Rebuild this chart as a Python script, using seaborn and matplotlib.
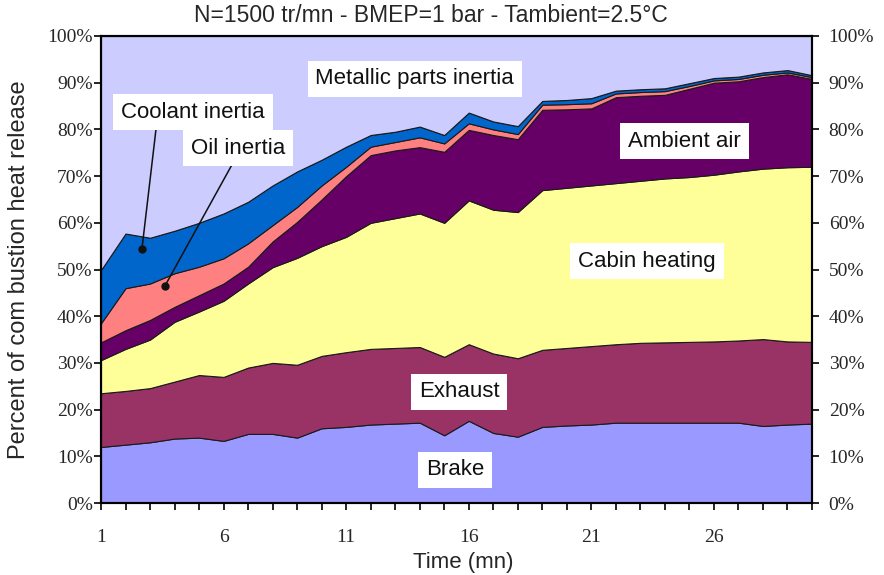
import numpy as np
import matplotlib
matplotlib.use("Agg")
import matplotlib.pyplot as plt
from matplotlib.ticker import FixedLocator, MultipleLocator, PercentFormatter
import seaborn as sns

# ─── DATA (share of combustion heat release, %) ──────────────────────────────
time_mn = list(range(1, 31))

brake = [12.0, 12.5, 13.0, 13.8, 14.0, 13.3, 14.8, 14.8, 14.0, 16.0,
         16.3, 16.8, 17.0, 17.2, 14.5, 17.6, 15.0, 14.2, 16.3, 16.6,
         16.8, 17.2, 17.2, 17.2, 17.2, 17.2, 17.2, 16.5, 16.8, 17.0]
exhaust = [11.5, 11.5, 11.6, 12.2, 13.4, 13.7, 14.2, 15.2, 15.6, 15.5,
           16.0, 16.2, 16.2, 16.2, 16.8, 16.4, 17.0, 16.8, 16.5, 16.6,
           16.8, 16.8, 17.1, 17.2, 17.3, 17.4, 17.6, 18.6, 17.8, 17.5]
cabin_heating = [7.1, 9.0, 10.4, 12.8, 13.6, 16.3, 18.0, 20.5, 22.9, 23.5,
                 24.7, 27.0, 27.8, 28.6, 28.7, 30.8, 30.8, 31.3, 34.2, 34.3,
                 34.4, 34.5, 34.7, 35.1, 35.3, 35.7, 36.2, 36.5, 37.3, 37.5]
ambient_air = [3.8, 4.0, 4.2, 3.2, 3.5, 3.7, 3.6, 5.5, 7.7, 10.0,
               13.0, 14.5, 14.5, 14.2, 15.2, 15.1, 16.0, 15.6, 17.2, 16.8,
               16.5, 18.4, 18.2, 17.9, 18.9, 19.7, 19.3, 19.6, 19.9, 18.8]
oil_inertia = [4.1, 9.0, 7.8, 7.2, 6.1, 5.4, 5.0, 3.5, 3.2, 3.0,
               2.0, 1.8, 1.8, 2.1, 1.8, 1.4, 1.2, 1.1, 1.1, 1.1,
               1.1, 0.8, 0.8, 0.8, 0.6, 0.5, 0.5, 0.5, 0.4, 0.4]
coolant_inertia = [11.4, 11.7, 9.8, 9.1, 9.4, 9.6, 8.9, 8.5, 7.6, 5.5,
                   4.3, 2.5, 2.2, 2.3, 1.8, 2.3, 1.7, 1.7, 0.8, 0.9,
                   1.1, 0.6, 0.6, 0.6, 0.6, 0.5, 0.5, 0.5, 0.5, 0.4]
metallic_inertia = [50.1, 42.3, 43.2, 41.7, 40.0, 38.0, 35.5, 32.0, 29.0, 26.5,
                    23.7, 21.2, 20.5, 19.4, 21.2, 16.4, 18.3, 19.3, 13.9, 13.7,
                    13.3, 11.7, 11.4, 11.2, 10.1, 9.0, 8.7, 7.8, 7.3, 8.4]

series_names = ["Brake", "Exhaust", "Cabin heating", "Ambient air",
                "Oil inertia", "Coolant inertia", "Metallic parts inertia"]
series_colors = ["#9999FF", "#993366", "#FFFF99", "#660066",
                 "#FF8080", "#0066CC", "#CCCCFF"]

# ─── STYLE ────────────────────────────────────────────────────────────────────
sns.set_style("ticks")
plt.rcParams["font.family"] = ["Liberation Sans", "DejaVu Sans"]
TICK_FONT = {"family": ["Liberation Serif", "DejaVu Serif"], "size": 14}
TXT = 16

fig = plt.figure(figsize=(8.84, 5.75), dpi=100)
ax = fig.add_axes([101 / 884, 1 - 503 / 575, 711 / 884, 467 / 575])

ax.stackplot(time_mn, brake, exhaust, cabin_heating, ambient_air,
             oil_inertia, coolant_inertia, metallic_inertia,
             colors=series_colors, labels=series_names,
             edgecolor="#1a1a1a", linewidth=0.8)

ax.set_xlim(1, 30)
ax.set_ylim(0, 100)

# x axis: a tick per minute, labels every 5
ax.xaxis.set_major_locator(FixedLocator([1, 6, 11, 16, 21, 26]))
ax.xaxis.set_minor_locator(MultipleLocator(1))
ax.tick_params(axis="x", which="both", direction="out", length=5, width=1.2,
               color="black", pad=14)
for lab in ax.get_xticklabels():
    lab.set_fontproperties(TICK_FONT)

ax.yaxis.set_major_locator(MultipleLocator(10))
ax.yaxis.set_major_formatter(PercentFormatter(decimals=0))
ax.tick_params(axis="y", direction="out", length=5, width=1.2, color="black", pad=1)
for lab in ax.get_yticklabels():
    lab.set_fontproperties(TICK_FONT)

ax2 = ax.twinx()
ax2.set_ylim(0, 100)
ax2.yaxis.set_major_locator(MultipleLocator(10))
ax2.yaxis.set_major_formatter(PercentFormatter(decimals=0))
ax2.tick_params(axis="y", direction="out", length=5, width=1.2, color="black", pad=7)
for lab in ax2.get_yticklabels():
    lab.set_fontproperties(TICK_FONT)

for a in (ax, ax2):
    for sp in a.spines.values():
        sp.set_visible(True)
        sp.set_color("black")
        sp.set_linewidth(1.5)

ax.set_xlabel("Time (mn)", fontsize=TXT)
ax.xaxis.set_label_coords(0.51, -0.105)
ax.set_ylabel("Percent of com bustion heat release", fontsize=17)
ax.yaxis.set_label_coords(-0.100, 0.5)

fig.text(431 / 884, 1 - 16 / 575, "N=1500 tr/mn - BMEP=1 bar - Tambient=2.5\u00b0C",
         ha="center", va="center", fontsize=16.5)

# ─── IN-CHART LABELS ──────────────────────────────────────────────────────────
box = dict(boxstyle="square,pad=0.35", facecolor="white", edgecolor="none")
labels = [
    ("Metallic parts inertia", 13.8, 90.8),
    ("Coolant inertia", 4.75, 83.7),
    ("Oil inertia", 6.59, 76.0),
    ("Ambient air", 24.8, 77.5),
    ("Cabin heating", 23.27, 51.8),
    ("Exhaust", 15.6, 23.8),
    ("Brake", 15.44, 7.1),
]
for text, lx, ly in labels:
    ax.text(lx, ly, text, ha="center", va="center", fontsize=TXT,
            color="#111111", bbox=box, zorder=5)

# leader lines for the thin inertia bands
for (x0, y0), (x1, y1) in [((3.24, 79.9), (2.67, 54.4)),
                           ((6.38, 72.8), (3.61, 46.5))]:
    ax.plot([x0, x1], [y0, y1], color="#111111", linewidth=1.1, zorder=4)
    ax.plot([x1], [y1], marker="o", markersize=5, color="#111111", zorder=4)

fig.savefig("out.png", dpi=100)
